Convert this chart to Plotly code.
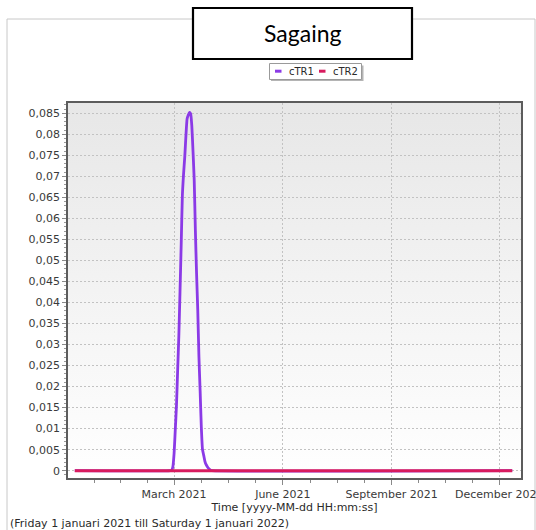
import base64

import pandas as pd
import plotly.graph_objects as go

# ---------------------------------------------------------------- data
chart_title = "Sagaing"
series_names = ["cTR1", "cTR2"]
series_colors = ["#8b3ae6", "#d81b5e"]

ctr1_dates = [
    "2020-12-07",
    "2021-02-26", "2021-02-27", "2021-02-28", "2021-03-01", "2021-03-02",
    "2021-03-03", "2021-03-04", "2021-03-05", "2021-03-06", "2021-03-07",
    "2021-03-08", "2021-03-09", "2021-03-10", "2021-03-11", "2021-03-12",
    "2021-03-13", "2021-03-14", "2021-03-15", "2021-03-16", "2021-03-17",
    "2021-03-18", "2021-03-19", "2021-03-20", "2021-03-21", "2021-03-22",
    "2021-03-23", "2021-03-24", "2021-03-25", "2021-03-26", "2021-03-27",
    "2021-03-28", "2021-03-29", "2021-03-30", "2021-03-31", "2021-04-01",
    "2021-04-02",
    "2021-12-12",
]
ctr1_values = [
    0.0,
    0.0, 0.0001, 0.0010, 0.0042, 0.0098,
    0.0155, 0.0239, 0.0321, 0.0427, 0.0538,
    0.0655, 0.0706, 0.0746, 0.0797, 0.0837,
    0.0846, 0.0852, 0.0849, 0.0819, 0.0759,
    0.0691, 0.0570, 0.0469, 0.0383, 0.0271,
    0.0191, 0.0105, 0.0051, 0.0037, 0.0023,
    0.0015, 0.0010, 0.0006, 0.0003, 0.0001,
    0.0,
    0.0,
]

ctr2_dates = ["2020-12-07", "2021-12-12"]
ctr2_values = [0.0, 0.0]

x_tick_dates = ["2021-03-01", "2021-06-01", "2021-09-01", "2021-12-01"]
x_tick_labels = ["March 2021", "June 2021", "September 2021", "December 2021"]

y_tick_values = [0, 0.005, 0.01, 0.015, 0.02, 0.025, 0.03, 0.035, 0.04,
                 0.045, 0.05, 0.055, 0.06, 0.065, 0.07, 0.075, 0.08, 0.085]
y_tick_labels = ["0", "0,005", "0,01", "0,015", "0,02", "0,025", "0,03",
                 "0,035", "0,04", "0,045", "0,05", "0,055", "0,06", "0,065",
                 "0,07", "0,075", "0,08", "0,085"]

x_axis_title = "Time [yyyy-MM-dd HH:mm:ss]"
period_text = "(Friday 1 januari 2021 till Saturday 1 januari 2022)"

# ---------------------------------------------------------------- layout geometry
W, H = 536, 530
PL, PT, PR, PB = 68, 103, 521, 478          # plot area in pixels


def fx(px):
    return (px - PL) / (PR - PL)


def fy(py):
    return (PB - py) / (PB - PT)


TICK_FONT = dict(family="DejaVu Sans", size=11, color="#3a3a3a")
GRID = dict(showgrid=True, gridcolor="#c2c2c2", griddash="2px,2px", gridwidth=1)

# minor x ticks: four sub-divisions of each quarter
quarters = pd.to_datetime(["2020-12-01", "2021-03-01", "2021-06-01",
                           "2021-09-01", "2021-12-01", "2022-03-01"])
x_minor = []
for a, b in zip(quarters[:-1], quarters[1:]):
    for k in (1, 2, 3):
        x_minor.append((a + (b - a) * k / 4).strftime("%Y-%m-%d %H:%M"))

# vertical grey gradient behind the data
grad_svg = (
    '<svg xmlns="http://www.w3.org/2000/svg" width="10" height="100" '
    'preserveAspectRatio="none"><defs><linearGradient id="g" x1="0" y1="0" '
    'x2="0" y2="1"><stop offset="0" stop-color="#e7e7e7"/>'
    '<stop offset="1" stop-color="#ffffff"/></linearGradient></defs>'
    '<rect width="10" height="100" fill="url(#g)"/></svg>'
)
grad_uri = "data:image/svg+xml;base64," + base64.b64encode(grad_svg.encode()).decode()

# ---------------------------------------------------------------- figure
fig = go.Figure()
fig.add_trace(go.Scatter(x=ctr1_dates, y=ctr1_values, mode="lines",
                         name=series_names[0],
                         line=dict(color=series_colors[0], width=2.8,
                                   shape="spline", smoothing=0.5)))
fig.add_trace(go.Scatter(x=ctr2_dates, y=ctr2_values, mode="lines",
                         name=series_names[1],
                         line=dict(color=series_colors[1], width=3)))

shapes = [
    # outer chart frame
    dict(type="rect", xref="paper", yref="paper",
         x0=fx(7), x1=fx(535), y0=fy(545), y1=fy(19),
         line=dict(color="#c8c8c8", width=1), fillcolor="rgba(0,0,0,0)",
         layer="below"),
    # title box
    dict(type="rect", xref="paper", yref="paper",
         x0=fx(193), x1=fx(412), y0=fy(59), y1=fy(8),
         line=dict(color="black", width=2.2), fillcolor="white"),
    # legend box shadow and box
    dict(type="rect", xref="paper", yref="paper",
         x0=fx(271), x1=fx(363.5), y0=fy(81), y1=fy(65.5),
         line=dict(width=0), fillcolor="#b4b4b4"),
    dict(type="rect", xref="paper", yref="paper",
         x0=fx(269.5), x1=fx(361.5), y0=fy(79.5), y1=fy(63.5),
         line=dict(color="#9a9a9a", width=1), fillcolor="white"),
]

annotations = [
    dict(text=chart_title, xref="paper", yref="paper", x=fx(302.5), y=fy(33),
         xanchor="center", yanchor="middle", showarrow=False,
         font=dict(family="Lato", size=23, color="black")),
    dict(text=period_text, xref="paper", yref="paper", x=fx(8), y=fy(523),
         xanchor="left", yanchor="middle", showarrow=False,
         font=dict(family="DejaVu Sans", size=11, color="#2a2a2a")),
]

# legend entries: short colour dash followed by the series name
legend_x = [(275, 286.5), (319, 330.5)]
for (sx, tx), name, color in zip(legend_x, series_names, series_colors):
    shapes.append(dict(type="line", xref="paper", yref="paper",
                       x0=fx(sx), x1=fx(sx + 6.5), y0=fy(71.2), y1=fy(71.2),
                       line=dict(color=color, width=3)))
    annotations.append(dict(text=name, xref="paper", yref="paper",
                            x=fx(tx), y=fy(71.5), xanchor="left",
                            yanchor="middle", showarrow=False,
                            font=dict(family="DejaVu Sans", size=10,
                                      color="#2a2a2a")))

fig.update_layout(
    width=W, height=H,
    autosize=False,
    margin=dict(l=PL, r=W - PR, t=PT, b=H - PB, pad=0, autoexpand=False),
    paper_bgcolor="white",
    plot_bgcolor="rgba(0,0,0,0)",
    showlegend=False,
    hovermode=False,
    shapes=shapes,
    annotations=annotations,
    images=[dict(source=grad_uri, xref="paper", yref="paper", x=0, y=1,
                 sizex=1, sizey=1, xanchor="left", yanchor="top",
                 sizing="stretch", layer="below")],
    xaxis=dict(
        type="date",
        range=["2020-12-01 06:00", "2021-12-19 10:00"],
        tickmode="array", tickvals=x_tick_dates, ticktext=x_tick_labels,
        ticklabeloverflow="allow", automargin=False,
        ticks="outside", ticklen=5, tickcolor="#8a8a8a", tickwidth=1,
        tickfont=TICK_FONT,
        showline=True, mirror=True, linecolor="#5c5c5c", linewidth=1.5,
        zeroline=False,
        minor=dict(tickmode="array", tickvals=x_minor, ticks="outside",
                   ticklen=3, tickcolor="#8a8a8a", showgrid=False),
        title=dict(text=x_axis_title, standoff=2,
                   font=dict(family="DejaVu Sans", size=11, color="#2a2a2a")),
        **GRID,
    ),
    yaxis=dict(
        range=[-0.00174, 0.08745],
        tickmode="array", tickvals=y_tick_values, ticktext=y_tick_labels,
        ticks="outside", ticklen=4, tickcolor="#8a8a8a", tickwidth=1,
        tickfont=TICK_FONT, automargin=False,
        showline=True, mirror=True, linecolor="#5c5c5c", linewidth=1.5,
        zeroline=False,
        minor=dict(dtick=0.001, tick0=0, ticks="outside", ticklen=2,
                   tickcolor="#9a9a9a", showgrid=False),
        **GRID,
    ),
)

fig.write_html("out.html")
